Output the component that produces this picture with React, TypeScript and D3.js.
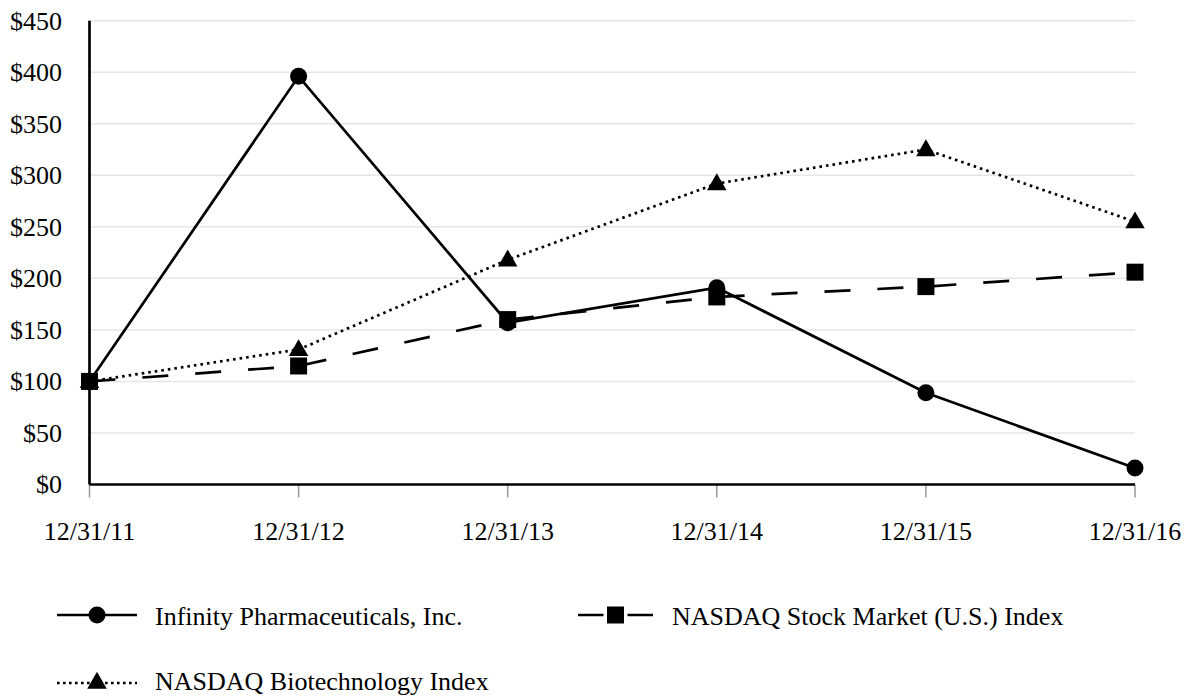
import { useEffect, useRef } from "react";
import * as d3 from "d3";

const dates = ["12/31/11", "12/31/12", "12/31/13", "12/31/14", "12/31/15", "12/31/16"];
const infinity = [100, 396, 157, 191, 89, 16];
const nasdaq = [100, 115, 160, 182, 192, 206];
const biotech = [100, 131, 218, 292, 325, 255];
const yTicks = [0, 50, 100, 150, 200, 250, 300, 350, 400, 450];

const W = 1185;
const H = 696;
const FONT = "'Liberation Serif', 'Times New Roman', serif";

export default function App() {
  const ref = useRef<SVGSVGElement | null>(null);

  useEffect(() => {
    if (!ref.current) return;
    const svg = d3.select(ref.current);
    svg.selectAll("*").remove();

    const x = d3.scalePoint<string>().domain(dates).range([89.5, 1135]);
    const y = d3.scaleLinear().domain([0, 450]).range([484.5, 20.7]);

    // gridlines
    svg.append("g")
      .selectAll("line")
      .data(yTicks.filter(t => t > 0))
      .join("line")
      .attr("x1", 89.5)
      .attr("x2", 1135)
      .attr("y1", d => y(d))
      .attr("y2", d => y(d))
      .attr("stroke", "#e6e6e6")
      .attr("stroke-width", 1.5);

    // y labels
    svg.append("g")
      .selectAll("text")
      .data(yTicks)
      .join("text")
      .attr("x", 62)
      .attr("y", d => y(d))
      .attr("dy", "0.34em")
      .attr("text-anchor", "end")
      .attr("font-family", FONT)
      .attr("font-size", 26)
      .attr("fill", "#000")
      .text(d => `$${d}`);

    // x tick marks
    svg.append("g")
      .selectAll("line")
      .data(dates)
      .join("line")
      .attr("x1", d => x(d)!)
      .attr("x2", d => x(d)!)
      .attr("y1", y(0))
      .attr("y2", y(0) + 13)
      .attr("stroke", "#999")
      .attr("stroke-width", 1.5);

    // x labels
    svg.append("g")
      .selectAll("text")
      .data(dates)
      .join("text")
      .attr("x", d => x(d)!)
      .attr("y", 540)
      .attr("text-anchor", "middle")
      .attr("font-family", FONT)
      .attr("font-size", 26)
      .attr("fill", "#000")
      .text(d => d);

    // axes
    svg.append("line")
      .attr("x1", 89.5).attr("x2", 89.5)
      .attr("y1", y(450)).attr("y2", y(0))
      .attr("stroke", "#000").attr("stroke-width", 2.7);
    svg.append("line")
      .attr("x1", 89.5).attr("x2", 1135)
      .attr("y1", y(0)).attr("y2", y(0))
      .attr("stroke", "#000").attr("stroke-width", 2.7);

    const line = d3.line<number>()
      .x((_, i) => x(dates[i])!)
      .y(d => y(d));

    const circle = d3.symbol().type(d3.symbolCircle).size(Math.PI * 8.5 * 8.5);
    const square = d3.symbol().type(d3.symbolSquare).size(17 * 17);
    const triangle = d3.symbol().type(d3.symbolTriangle).size(165);

    const series = [
      { values: infinity, dash: null as string | null, sym: circle },
      { values: biotech, dash: "2.6,4", sym: triangle },
      { values: nasdaq, dash: "26,27", sym: square },
    ];

    series.forEach(s => {
      svg.append("path")
        .datum(s.values)
        .attr("d", line)
        .attr("fill", "none")
        .attr("stroke", "#000")
        .attr("stroke-width", 2.7)
        .attr("stroke-dasharray", s.dash);
    });
    series.forEach(s => {
      svg.append("g")
        .selectAll("path")
        .data(s.values)
        .join("path")
        .attr("transform", (d, i) => `translate(${x(dates[i])},${y(d) + (s.sym === triangle ? 1 : 0)})`)
        .attr("d", s.sym() as string)
        .attr("fill", "#000");
    });

    // legend
    const legend = [
      { label: "Infinity Pharmaceuticals, Inc.", x0: 57, x1: 137, yy: 615, ty: 625, dash: null as string | null, sym: circle, tx: 155 },
      { label: "NASDAQ Stock Market (U.S.) Index", x0: 578, x1: 653, yy: 615, ty: 625, dash: null as string | null, sym: square, tx: 672 },
      { label: "NASDAQ Biotechnology Index", x0: 57, x1: 137, yy: 683, ty: 690, dash: "2.6,3.4", sym: triangle, tx: 155 },
    ];
    legend.forEach(l => {
      const g = svg.append("g");
      g.append("line")
        .attr("x1", l.x0).attr("x2", l.x1)
        .attr("y1", l.yy).attr("y2", l.yy)
        .attr("stroke", "#000")
        .attr("stroke-width", 2.7)
        .attr("stroke-dasharray", l.dash);
      if (l.sym === square) {
        g.append("rect")
          .attr("x", (l.x0 + l.x1) / 2 - 12)
          .attr("y", l.yy - 12)
          .attr("width", 24).attr("height", 24)
          .attr("fill", "#fff");
      }
      g.append("path")
        .attr("transform", `translate(${(l.x0 + l.x1) / 2},${l.yy})`)
        .attr("d", l.sym() as string)
        .attr("fill", "#000");
      g.append("text")
        .attr("x", l.tx)
        .attr("y", l.ty)
        .attr("font-family", FONT)
        .attr("font-size", 26)
        .attr("fill", "#000")
        .text(l.label);
    });
  }, []);

  return (
    <div style={{ position: "absolute", left: 0, top: 0 }}>
      <svg ref={ref} width={W} height={H} style={{ display: "block", background: "#fff" }} />
    </div>
  );
}
